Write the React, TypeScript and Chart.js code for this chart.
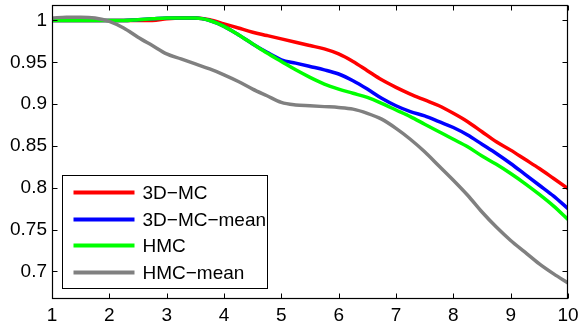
import React, { useEffect, useRef } from 'react';
import { Chart, registerables } from 'chart.js';

Chart.register(...registerables);

const xValues = [1, 1.25, 1.5, 1.75, 2, 2.25, 2.5, 2.75, 3, 3.25, 3.5, 3.75, 4, 4.25, 4.5, 4.75, 5, 5.25, 5.5, 5.75, 6, 6.25, 6.5, 6.75, 7, 7.25, 7.5, 7.75, 8, 8.25, 8.5, 8.75, 9, 9.25, 9.5, 9.75, 10];

const mc3d = [1.0, 1.0, 1.0, 1.0, 1.0, 1.0, 1.0, 1.0, 1.002, 1.003, 1.003, 1.001, 0.996, 0.991, 0.986, 0.982, 0.978, 0.974, 0.97, 0.966, 0.96, 0.951, 0.94, 0.929, 0.92, 0.912, 0.905, 0.898, 0.889, 0.879, 0.867, 0.855, 0.845, 0.834, 0.823, 0.811, 0.799];

const mc3dMean = [1.0, 1.0, 1.0, 1.0, 1.0, 1.0, 1.001, 1.002, 1.003, 1.003, 1.003, 1.0, 0.993, 0.983, 0.972, 0.962, 0.953, 0.949, 0.945, 0.941, 0.936, 0.928, 0.918, 0.907, 0.898, 0.891, 0.886, 0.879, 0.872, 0.863, 0.852, 0.841, 0.829, 0.816, 0.803, 0.79, 0.775];

const hmc = [1.0, 1.0, 1.0, 1.0, 1.0, 1.0, 1.001, 1.002, 1.003, 1.003, 1.003, 1.0, 0.993, 0.983, 0.972, 0.961, 0.951, 0.941, 0.932, 0.924, 0.918, 0.913, 0.908, 0.901, 0.893, 0.885, 0.876, 0.867, 0.858, 0.849, 0.838, 0.828, 0.817, 0.805, 0.792, 0.778, 0.762];

const hmcMean = [1.003, 1.004, 1.004, 1.003, 0.999, 0.991, 0.98, 0.97, 0.96, 0.954, 0.948, 0.942, 0.935, 0.927, 0.918, 0.91, 0.902, 0.899, 0.898, 0.897, 0.896, 0.894, 0.889, 0.882, 0.871, 0.858, 0.843, 0.826, 0.809, 0.791, 0.771, 0.753, 0.737, 0.723, 0.709, 0.697, 0.686];

const seriesLabels = ['3D\u2212MC', '3D\u2212MC\u2212mean', 'HMC', 'HMC\u2212mean'];
const seriesValues = [mc3d, mc3dMean, hmc, hmcMean];
const seriesColors = ['#ff0000', '#0000ff', '#00ff00', '#808080'];

const xTicks = [1, 2, 3, 4, 5, 6, 7, 8, 9, 10];
const xTickLabels = ['1', '2', '3', '4', '5', '6', '7', '8', '9', '10'];
const yTicks = [0.7, 0.75, 0.8, 0.85, 0.9, 0.95, 1];
const yTickLabels = ['0.7', '0.75', '0.8', '0.85', '0.9', '0.95', '1'];

const FONT = '"Liberation Sans", Arial, sans-serif';

const overlayPlugin = {
  id: 'matlabOverlay',
  afterDraw(chart: any) {
    const ctx: CanvasRenderingContext2D = chart.ctx;
    const area = chart.chartArea;
    const xs = chart.scales.x;
    const ys = chart.scales.y;
    const L = Math.round(area.left) + 0.5;
    const R = Math.round(area.right) - 0.5;
    const T = Math.round(area.top) + 0.5;
    const B = Math.round(area.bottom) - 0.5;
    const tl = 5;
    ctx.save();
    ctx.strokeStyle = '#000000';
    ctx.lineWidth = 1.2;
    ctx.strokeRect(L, T, R - L, B - T);
    ctx.lineWidth = 1;
    for (const v of xTicks) {
      const px = Math.round(xs.getPixelForValue(v)) + 0.5;
      ctx.beginPath();
      ctx.moveTo(px, B);
      ctx.lineTo(px, B - tl);
      ctx.moveTo(px, T);
      ctx.lineTo(px, T + tl);
      ctx.stroke();
    }
    for (const v of yTicks) {
      const py = Math.round(ys.getPixelForValue(v)) + 0.5;
      ctx.beginPath();
      ctx.moveTo(L, py);
      ctx.lineTo(L + tl, py);
      ctx.moveTo(R, py);
      ctx.lineTo(R - tl, py);
      ctx.stroke();
    }

    // legend
    const bx = Math.round(area.left) + 10.5;
    const bw = 205;
    const bh = 113;
    const by = Math.round(area.bottom) - 11 - bh + 0.5;
    ctx.fillStyle = '#ffffff';
    ctx.fillRect(bx, by, bw, bh);
    ctx.strokeStyle = '#000000';
    ctx.lineWidth = 1;
    ctx.strokeRect(bx, by, bw, bh);
    ctx.font = '19px ' + FONT;
    ctx.textBaseline = 'middle';
    ctx.textAlign = 'left';
    const rows = [17, 44, 70, 97];
    chart.data.datasets.forEach((ds: any) => {
      const idx = ds.legendIndex;
      const cy = by + rows[idx];
      ctx.strokeStyle = ds.borderColor;
      ctx.lineWidth = 4;
      ctx.beginPath();
      ctx.moveTo(bx + 11, cy);
      ctx.lineTo(bx + 72, cy);
      ctx.stroke();
      ctx.fillStyle = '#000000';
      ctx.fillText(ds.label, bx + 80, cy + 1);
    });
    ctx.restore();
  },
};

export default function App() {
  const ref = useRef<HTMLCanvasElement | null>(null);
  useEffect(() => {
    document.body.style.margin = '0';
    if (!ref.current) return;
    const datasets = seriesLabels.map((label, i) => ({
      label,
      legendIndex: i,
      data: xValues.map((x, j) => ({ x, y: seriesValues[i][j] })),
      borderColor: seriesColors[i],
      backgroundColor: seriesColors[i],
      borderWidth: 3.5,
      pointRadius: 0,
      tension: 0.4,
      cubicInterpolationMode: 'monotone' as const,
      fill: false,
      order: seriesLabels.length - i,
    }));
    const chart = new Chart(ref.current, {
      type: 'line',
      data: { datasets },
      plugins: [overlayPlugin],
      options: {
        responsive: false,
        animation: false,
        layout: { padding: { left: 0, right: 13, top: 5, bottom: 0 } },
        plugins: { legend: { display: false }, tooltip: { enabled: false } },
        scales: {
          x: {
            type: 'linear',
            min: 1,
            max: 10,
            grid: { display: false, drawTicks: false },
            border: { display: false },
            afterBuildTicks: (s: any) => {
              s.ticks = xTicks.map((v) => ({ value: v }));
            },
            afterFit: (s: any) => {
              s.height = 28;
              s.paddingLeft = 0;
              s.paddingRight = 0;
            },
            ticks: {
              maxRotation: 0,
              autoSkip: false,
              padding: 5,
              color: '#000000',
              font: { family: FONT, size: 19 },
              callback: (v: any) => {
                const k = xTicks.indexOf(Number(v));
                return k >= 0 ? xTickLabels[k] : '';
              },
            },
          },
          y: {
            type: 'linear',
            min: 0.667,
            max: 1.0185,
            grid: { display: false, drawTicks: false },
            border: { display: false },
            afterBuildTicks: (s: any) => {
              s.ticks = yTicks.map((v) => ({ value: v }));
            },
            afterFit: (s: any) => {
              s.width = 52;
              s.paddingTop = 0;
              s.paddingBottom = 0;
            },
            ticks: {
              autoSkip: false,
              padding: 5,
              color: '#000000',
              font: { family: FONT, size: 19 },
              callback: (v: any) => {
                const k = yTicks.findIndex((t) => Math.abs(t - Number(v)) < 1e-6);
                return k >= 0 ? yTickLabels[k] : '';
              },
            },
          },
        },
      },
    });
    return () => chart.destroy();
  }, []);
  return (
    <canvas ref={ref} width={581} height={327} style={{ display: 'block' }} />
  );
}
